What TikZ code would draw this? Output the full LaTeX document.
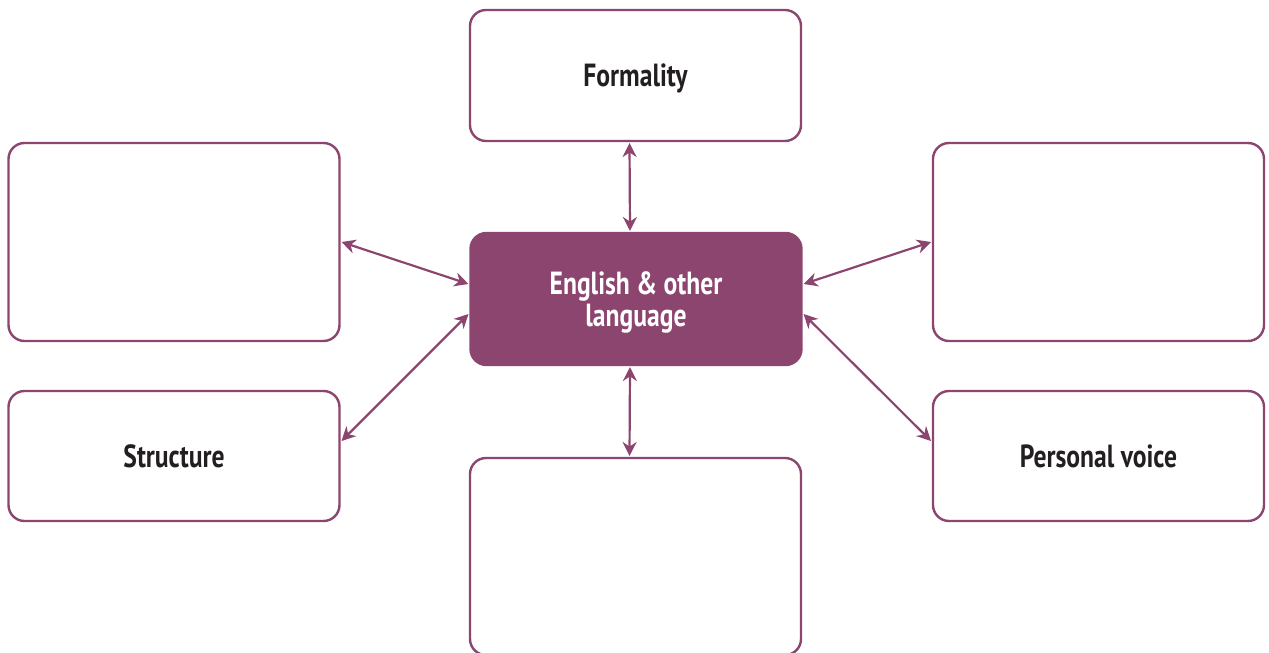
\documentclass[tikz,border=0pt]{standalone}
\usepackage{fontspec}
\newfontfamily\boxfont{PT Sans}[FakeStretch=0.8]
\usepackage{tikz}
\usetikzlibrary{arrows.meta,positioning,calc}
\definecolor{plum}{HTML}{8C456F}
\definecolor{inkdark}{HTML}{231F20}

\begin{document}
\begin{tikzpicture}[x=0.5pt,y=-0.5pt,
  topic/.style={draw=plum, line width=1.2pt, rounded corners=8pt, fill=white,
    minimum width=165.5pt, inner sep=0pt, outer sep=0pt, text depth=0pt,
    font=\boxfont\bfseries\fontsize{16}{16}\selectfont, text=inkdark, align=center},
  hub/.style={topic, fill=plum, text=white},
  link/.style={plum, line width=1.1pt, {Stealth[length=7pt,width=7pt]}-{Stealth[length=7pt,width=7pt]}}]
\useasboundingbox (0,0) rectangle (1269,653);
% boxes
\node[hub, minimum height=66pt] (hub) at (636,299) {English \& other\\language};
\node[topic, minimum height=65.5pt] (formality) at (635.5,75.5) {Formality};
\node[topic, minimum height=99pt] (lefttop) at (174,242) {};
\node[topic, minimum height=99pt] (righttop) at (1098.5,242) {};
\node[topic, minimum height=65pt] (structure) at (174,456) {Structure};
\node[topic, minimum height=65pt] (voice) at (1098.5,456) {Personal voice};
\node[topic, minimum height=98.5pt] (bottom) at (635.5,556.5) {};
% arrows
\draw[link] ([xshift=-3pt,yshift=-1pt]formality.south) -- ([xshift=-3pt,yshift=1pt]hub.north);
\draw[link] ([xshift=-3pt,yshift=1pt]bottom.north) -- ([xshift=-3pt,yshift=-1pt]hub.south);
\draw[link] ([xshift=1pt]lefttop.east) -- ([xshift=-1pt,yshift=7.5pt]hub.west);
\draw[link] ([xshift=-1pt]righttop.west) -- ([xshift=1pt,yshift=7.5pt]hub.east);
\draw[link] ([xshift=1pt,yshift=7.5pt]structure.east) -- ([xshift=-1pt,yshift=-7.5pt]hub.west);
\draw[link] ([xshift=-1pt,yshift=7.5pt]voice.west) -- ([xshift=1pt,yshift=-7.5pt]hub.east);
\end{tikzpicture}
\end{document}
